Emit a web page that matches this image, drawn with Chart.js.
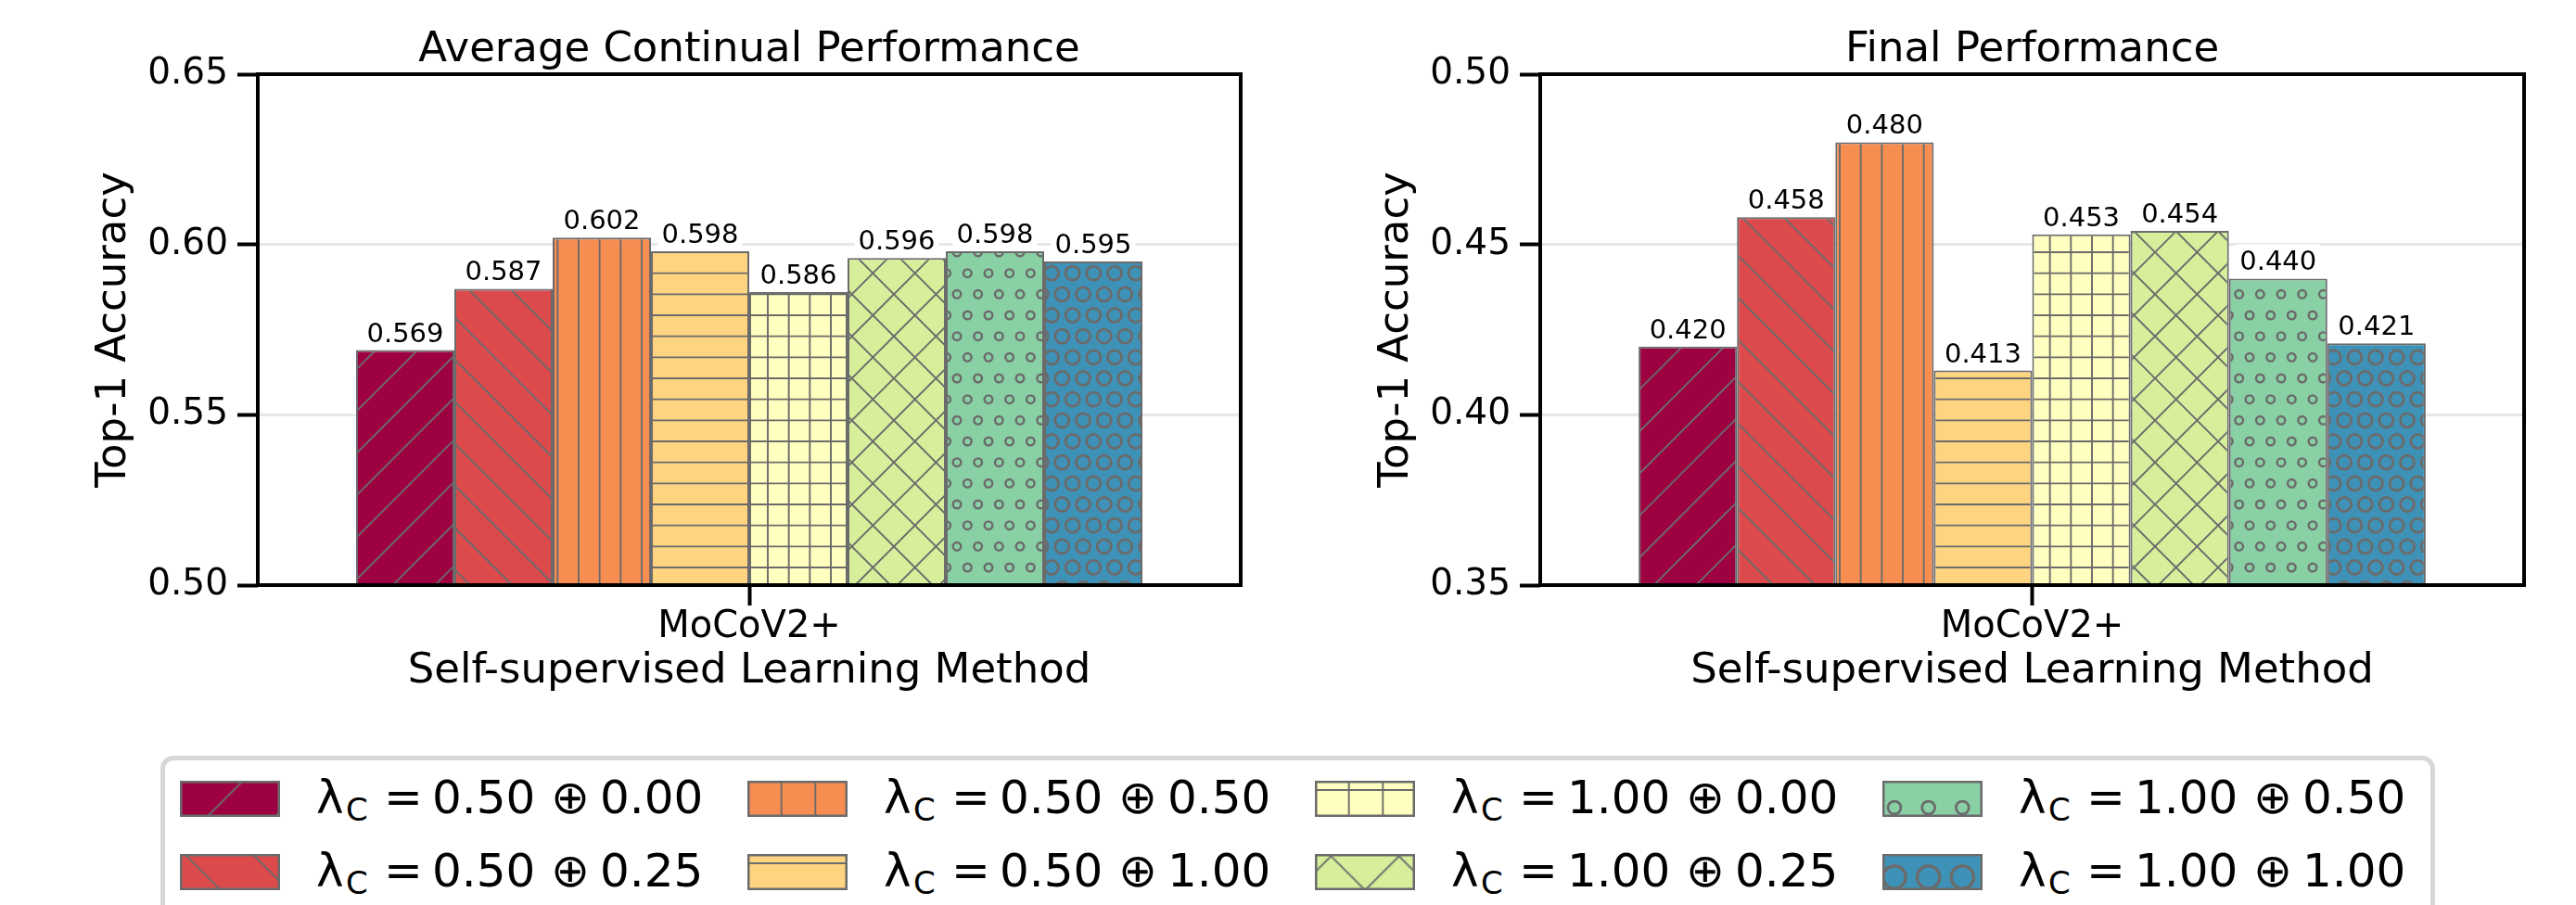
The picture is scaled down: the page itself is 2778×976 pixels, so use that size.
<!DOCTYPE html>
<html><head><meta charset="utf-8">
<script src="https://cdn.jsdelivr.net/npm/chart.js@4.4.1/dist/chart.umd.min.js"></script>
<style>
html,body{margin:0;padding:0;background:#fff;width:2778px;height:976px;overflow:hidden;font-family:'DejaVu Sans';}
#c1{position:absolute;left:0;top:0;}
#c2{position:absolute;left:1383px;top:0;}
#legend{position:absolute;left:173px;top:815px;width:2453px;height:260px;border:5px solid #d7d7d7;border-radius:14px;box-sizing:border-box;background:#fff;}
.sw{position:absolute;}
.tok{position:absolute;white-space:pre;font-family:'DejaVu Sans';color:#000;line-height:1;}
</style></head><body>
<canvas id="c1" width="1389" height="760"></canvas>
<canvas id="c2" width="1389" height="760"></canvas>
<div id="legend"></div>
<script>
// ---------- data ----------
const categories = ['MoCoV2+'];
const lambdaBase = ['0.50','0.50','0.50','0.50','1.00','1.00','1.00','1.00'];
const lambdaAdd  = ['0.00','0.25','0.50','1.00','0.00','0.25','0.50','1.00'];
const avgContinual = [0.569, 0.587, 0.602, 0.598, 0.586, 0.596, 0.598, 0.595];
const finalPerf    = [0.420, 0.458, 0.480, 0.413, 0.453, 0.454, 0.440, 0.421];
const yTicksLeft  = [0.50, 0.55, 0.60, 0.65];
const yTicksRight = [0.35, 0.40, 0.45, 0.50];
const titleLeft = 'Average Continual Performance';
const titleRight = 'Final Performance';
const xTitle = 'Self-supervised Learning Method';
const yTitle = 'Top-1 Accuracy';

// ---------- styles ----------
const fillColors = ['#9e0142','#dd4a4c','#f88d52','#fed481','#ffffbf','#d7ef9b','#89d0a5','#3f92b7'];
const hatches = ['/','\\','|','-','+','x','o','O'];
const legendPhase = {'/':[0,-5.3], '\\':[5,0], '|':[0,0], '-':[0,10], '+':[0,10], 'x':[17.4,2.3], 'o':[13,29], 'O':[13,25]};
const EDGE = '#6b6b6b';
const CELL = 136, LCELL = 220;
const FONT = "'DejaVu Sans'";
Chart.defaults.font.family = FONT;

function makeTile(color, hatch, cell){
  const c = document.createElement('canvas'); c.width = cell; c.height = cell;
  const g = c.getContext('2d');
  g.fillStyle = color; g.fillRect(0,0,cell,cell);
  g.strokeStyle = EDGE; g.lineWidth = 1.9;
  const n6 = cell/6, n3 = cell/3;
  g.beginPath();
  if (hatch === '/' || hatch === 'x'){
    for (let k=-1;k<=7;k++){ const c0=k*n3; g.moveTo(c0+30,-30); g.lineTo(c0-cell-30, cell+30); }
  }
  if (hatch === '\\' || hatch === 'x'){
    for (let k=-4;k<=4;k++){ const c0=k*n3; g.moveTo(c0-30,-30); g.lineTo(c0+cell+30, cell+30); }
  }
  if (hatch === '|' || hatch === '+'){
    for (let k=0;k<=6;k++){ g.moveTo(k*n6,-2); g.lineTo(k*n6,cell+2); }
  }
  if (hatch === '-' || hatch === '+'){
    for (let k=0;k<=6;k++){ g.moveTo(-2,k*n6); g.lineTo(cell+2,k*n6); }
  }
  g.stroke();
  if (hatch === 'o' || hatch === 'O'){
    const r = (hatch === 'o' ? 0.2 : 0.35) * n6;
    g.lineWidth = 2.0 + 0.1*r;
    for (let row=0; row<=6; row++){
      const y = row*n6;
      const xs = [];
      if (row % 2 === 0) for (let j=0;j<=6;j++) xs.push(j*n6);
      else for (let j=0;j<6;j++) xs.push((j+0.5)*n6);
      xs.forEach(x=>{ g.beginPath(); g.arc(x,y,r*0.95,0,Math.PI*2); g.stroke(); });
    }
  }
  return c;
}
const tiles = fillColors.map((c,i)=>makeTile(c, hatches[i], CELL));
const legendTiles = fillColors.map((c,i)=>makeTile(c, hatches[i], LCELL));
function pattern(ctx, tile, ox, oy){
  const p = ctx.createPattern(tile, 'repeat');
  p.setTransform(new DOMMatrix([1,0,0,1,ox,oy]));
  return p;
}

// ---------- plugins ----------
const framePlugin = {id:'frame', afterDraw(chart){
  const {ctx, chartArea:a} = chart;
  ctx.save(); ctx.strokeStyle='#000'; ctx.lineWidth=4;
  ctx.strokeRect(a.left, a.top, a.right-a.left, a.bottom-a.top);
  ctx.restore();
}};
const valuePlugin = {id:'vals', afterDraw(chart){
  const ctx = chart.ctx;
  ctx.save();
  ctx.font = "29px " + FONT; ctx.textAlign='center'; ctx.textBaseline='alphabetic';
  chart.data.datasets.forEach((ds,i)=>{
    chart.getDatasetMeta(i).data.forEach((bar,j)=>{
      const txt = Number(ds.data[j]).toFixed(3);
      const w = ctx.measureText(txt).width;
      const by = bar.y - 9;
      ctx.fillStyle='#fff'; ctx.fillRect(bar.x - w/2 - 4, by - 28, w + 8, 32);
      ctx.fillStyle='#000'; ctx.fillText(txt, bar.x, by);
    });
  });
  ctx.restore();
}};

function makeChart(id, values, yTicks, title, padRight, pageX){
  const canvas = document.getElementById(id);
  const ctx = canvas.getContext('2d');
  const datasets = values.map((v,i)=>({
    label: 'λC = ' + lambdaBase[i] + ' ⊕ ' + lambdaAdd[i],
    data: [v],
    backgroundColor: pattern(ctx, tiles[i], 12 - pageX, 0),
    borderColor: EDGE, borderWidth: 2, borderSkipped: false,
    categoryPercentage: 0.8, barPercentage: 1.0
  }));
  return new Chart(ctx, {
    type: 'bar',
    data: {labels: categories, datasets},
    plugins: [valuePlugin, framePlugin],
    options: {
      responsive:false, animation:false, events:[],
      layout:{padding:{left:96, right:padRight, top:0, bottom:9}},
      plugins:{
        legend:{display:false}, tooltip:{enabled:false},
        title:{display:true, fullSize:false, text:title, color:'#000',
          font:{family:FONT, size:45, weight:'normal', lineHeight:1},
          padding:{top:32, bottom:3}}
      },
      scales:{
        x:{
          type:'category', offset:true,
          grid:{offset:false, drawOnChartArea:false, drawTicks:true, tickLength:22, tickWidth:4, tickColor:'#000'},
          border:{display:false},
          ticks:{color:'#000', font:{family:FONT, size:40, lineHeight:1.2}, padding:0, maxRotation:0},
          title:{display:true, text:xTitle, color:'#000', font:{family:FONT, size:45, lineHeight:1.2}, padding:0},
          afterFit(s){ s.height = 120; }
        },
        y:{
          min: yTicks[0], max: yTicks[yTicks.length-1], z:1,
          afterBuildTicks(s){ s.ticks = yTicks.map(v=>({value:v})); },
          ticks:{color:'#000', font:{family:FONT, size:39}, padding:10, callback:(v)=>Number(v).toFixed(2)},
          grid:{color:'rgba(176,176,176,0.3)', lineWidth:3, drawTicks:true, tickLength:22, tickWidth:4, tickColor:'#000'},
          border:{display:false},
          title:{display:true, text:yTitle, color:'#000', font:{family:FONT, size:45, lineHeight:1.2}, padding:0},
          afterFit(s){ s.width = 182; }
        }
      }
    }
  });
}
makeChart('c1', avgContinual, yTicksLeft, titleLeft, 51, 0);
makeChart('c2', finalPerf, yTicksRight, titleRight, 50, 1383);

// ---------- legend ----------
function addTok(txt, left, baseline, size){
  const s = document.createElement('span');
  s.className = 'tok'; s.textContent = txt; s.style.fontSize = size + 'px';
  const asc = 0.928*size, desc = 0.236*size;
  const top = baseline - ((size - (asc+desc))/2 + asc);
  s.style.left = left + 'px'; s.style.top = top + 'px';
  document.body.appendChild(s);
}
for (let i=0;i<8;i++){
  const col = Math.floor(i/2), row = i%2;
  const hx = 194 + 612*col, hy = 842 + 79*row;
  const cv = document.createElement('canvas');
  cv.width = 108; cv.height = 39; cv.className='sw';
  cv.style.left = hx + 'px'; cv.style.top = hy + 'px';
  const g = cv.getContext('2d');
  const ph = legendPhase[hatches[i]];
  g.fillStyle = pattern(g, legendTiles[i], ph[0], ph[1]);
  g.fillRect(0,0,108,39);
  g.strokeStyle = EDGE; g.lineWidth = 2.5;
  g.strokeRect(1.25,1.25,105.5,36.5);
  document.body.appendChild(cv);
  const bx = hx + 148, base = 877 + 79*row;
  addTok('λ', bx - 1, base, 50);
  addTok('C', bx + 31, base + 8, 34);
  addTok('=', bx + 72, base, 50);
  addTok(lambdaBase[i], bx + 124, base, 50);
  addTok('⊕', bx + 252, base, 50);
  addTok(lambdaAdd[i], bx + 305, base, 50);
}
</script>
</body></html>
